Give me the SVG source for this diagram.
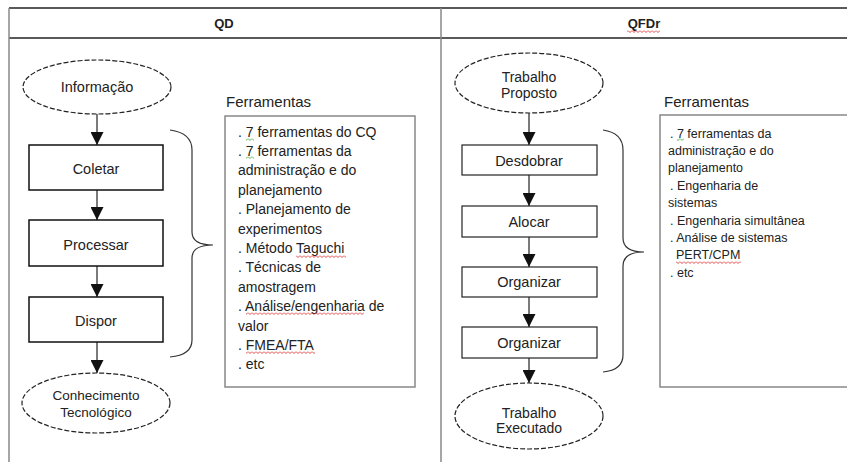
<svg xmlns="http://www.w3.org/2000/svg" width="847" height="462" viewBox="0 0 847 462">
<defs>
<style>
text{font-family:"Liberation Sans",Arial,sans-serif;fill:#222}
.hdr{font-size:13px;font-weight:bold;text-anchor:middle}
.node{font-size:14.5px;text-anchor:middle}
.lbl{font-size:15px}
.tl{font-size:14px}
.tr{font-size:12.5px}
.box{fill:#fff;stroke:#111;stroke-width:1.5}
.boxr{fill:#fff;stroke:#222;stroke-width:1.2}
.ell{fill:#fff;stroke:#222;stroke-width:1.2;stroke-dasharray:5 2}
.tbox{fill:#fff;stroke:#888;stroke-width:1.5}
.frameh{stroke:#222;stroke-width:1.5}
.framev{stroke:#888;stroke-width:1.5}
.arrow{stroke:#222;stroke-width:1.2;fill:none;marker-end:url(#ah)}
.brace{stroke:#333;stroke-width:1.2;fill:none}
</style>
<marker id="ah" markerUnits="userSpaceOnUse" markerWidth="13" markerHeight="13" refX="13" refY="6.5" orient="auto">
<path d="M0,0 L13,6.5 L0,13 Z" fill="#111"/>
</marker>
<pattern id="wavyRed" patternUnits="userSpaceOnUse" width="4" height="3">
<path d="M0,0.5 L2,2.5 L4,0.5" fill="none" stroke="#d33" stroke-width="0.9"/>
</pattern>
<pattern id="wavyGreen" patternUnits="userSpaceOnUse" width="4" height="3">
<path d="M0,0.5 L2,2.5 L4,0.5" fill="none" stroke="#4a4" stroke-width="0.9"/>
</pattern>
</defs>
<rect width="847" height="462" fill="#fff"/>

<g id="frame">
<line class="frameh" x1="9" y1="8" x2="847" y2="8"/>
<line class="frameh" x1="9" y1="38" x2="847" y2="38"/>
<line class="framev" x1="9" y1="8" x2="9" y2="462"/>
<line class="framev" x1="441" y1="8" x2="441" y2="462"/>
<text class="hdr" x="224" y="28">QD</text>
<text class="hdr" x="644" y="28">QFDr</text>
<rect x="627" y="30" width="33" height="3" fill="url(#wavyRed)"/>
</g>

<g id="connectors">
<line class="arrow" x1="97" y1="114" x2="97" y2="145"/>
<line class="arrow" x1="97" y1="190" x2="97" y2="220"/>
<line class="arrow" x1="97" y1="266" x2="97" y2="297"/>
<line class="arrow" x1="97" y1="342" x2="97" y2="373"/>
<line class="arrow" x1="529" y1="113" x2="529" y2="145"/>
<line class="arrow" x1="529" y1="175" x2="529" y2="206"/>
<line class="arrow" x1="529" y1="237" x2="529" y2="267"/>
<line class="arrow" x1="529" y1="297" x2="529" y2="327"/>
<line class="arrow" x1="529" y1="358" x2="529" y2="383"/>
<path class="brace" d="M170,130 Q192,133 192,150 L192,232 Q192,245 213,245 Q192,245 192,258 L192,340 Q192,355 170,357"/>
<path class="brace" d="M603,130 Q623,133 623,150 L623,238 Q623,252 644,252 Q623,252 623,266 L623,355 Q623,370 603,372"/>
</g>

<g id="n_informacao">
<ellipse class="ell" cx="97" cy="87" rx="74" ry="27"/>
<text class="node" x="97" y="92">Informação</text>
</g>
<g id="n_coletar">
<rect class="box" x="29" y="145" width="134" height="45"/>
<text class="node" x="96" y="174">Coletar</text>
</g>
<g id="n_processar">
<rect class="box" x="29" y="220" width="134" height="46"/>
<text class="node" x="96" y="250">Processar</text>
</g>
<g id="n_dispor">
<rect class="box" x="29" y="297" width="134" height="45"/>
<text class="node" x="96" y="326">Dispor</text>
</g>
<g id="n_conhecimento">
<ellipse class="ell" cx="96" cy="403" rx="74" ry="30"/>
<text class="node" x="96" y="400" style="font-size:13.5px">Conhecimento</text>
<text class="node" x="96" y="417" style="font-size:13.5px">Tecnológico</text>
</g>

<g id="n_ferramentas_qd">
<text class="lbl" x="226" y="107">Ferramentas</text>
<rect class="tbox" x="225" y="116" width="190" height="271"/>
<text class="tl" x="238" y="136.5">. 7 ferramentas do CQ</text>
<text class="tl" x="238" y="155.9">. 7 ferramentas da</text>
<text class="tl" x="238" y="175.3">administração e do</text>
<text class="tl" x="238" y="194.7">planejamento</text>
<text class="tl" x="238" y="214.1">. Planejamento de</text>
<text class="tl" x="238" y="233.5">experimentos</text>
<text class="tl" x="238" y="252.9">. Método Taguchi</text>
<text class="tl" x="238" y="272.3">. Técnicas de</text>
<text class="tl" x="238" y="291.7">amostragem</text>
<text class="tl" x="238" y="311.1">. Análise/engenharia de</text>
<text class="tl" x="238" y="330.5">valor</text>
<text class="tl" x="238" y="349.9">. FMEA/FTA</text>
<text class="tl" x="238" y="369.3">. etc</text>
<rect x="246" y="138" width="8" height="3" fill="url(#wavyGreen)"/>
<rect x="246" y="156" width="8" height="3" fill="url(#wavyGreen)"/>
<rect x="296" y="255" width="50" height="3" fill="url(#wavyRed)"/>
<rect x="246" y="312" width="118" height="3" fill="url(#wavyRed)"/>
<rect x="246" y="351" width="69" height="3" fill="url(#wavyRed)"/>
</g>

<g id="n_trabalho_proposto">
<ellipse class="ell" cx="529" cy="83" rx="74" ry="30"/>
<text class="node" x="529" y="82" style="font-size:14px">Trabalho</text>
<text class="node" x="529" y="98" style="font-size:14px">Proposto</text>
</g>
<g id="n_desdobrar">
<rect class="boxr" x="462" y="145" width="135" height="30"/>
<text class="node" x="529" y="166">Desdobrar</text>
</g>
<g id="n_alocar">
<rect class="boxr" x="462" y="206" width="135" height="31"/>
<text class="node" x="529" y="227">Alocar</text>
</g>
<g id="n_organizar1">
<rect class="boxr" x="462" y="267" width="135" height="30"/>
<text class="node" x="529" y="287">Organizar</text>
</g>
<g id="n_organizar2">
<rect class="boxr" x="462" y="327" width="135" height="31"/>
<text class="node" x="529" y="348">Organizar</text>
</g>
<g id="n_trabalho_executado">
<ellipse class="ell" cx="529" cy="416" rx="74" ry="33"/>
<text class="node" x="529" y="418" style="font-size:14px">Trabalho</text>
<text class="node" x="529" y="433" style="font-size:14px">Executado</text>
</g>

<g id="n_ferramentas_qfdr">
<text class="lbl" x="664" y="107">Ferramentas</text>
<rect class="tbox" x="660" y="115" width="200" height="272"/>
<text class="tr" x="670" y="137.5">. 7 ferramentas da</text>
<text class="tr" x="668" y="154.9">administração e do</text>
<text class="tr" x="668" y="172.3">planejamento</text>
<text class="tr" x="670" y="189.7">. Engenharia de</text>
<text class="tr" x="668" y="207.1">sistemas</text>
<text class="tr" x="670" y="224.5">. Engenharia simultânea</text>
<text class="tr" x="670" y="241.9">. Análise de sistemas</text>
<text class="tr" x="676" y="259.3">PERT/CPM</text>
<text class="tr" x="670" y="276.7">. etc</text>
<rect x="677" y="138" width="7" height="3" fill="url(#wavyGreen)"/>
<rect x="676" y="261" width="65" height="3" fill="url(#wavyRed)"/>
</g>
</svg>
